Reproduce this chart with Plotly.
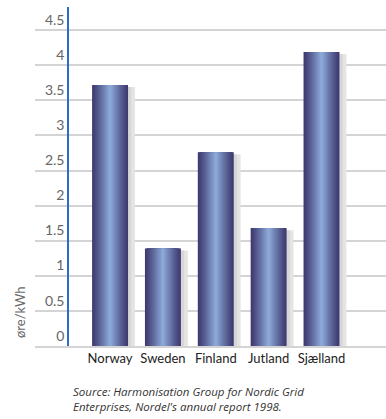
import plotly.graph_objects as go

countries = ["Norway", "Sweden", "Finland", "Jutland", "Sjælland"]
values = [3.72, 1.39, 2.76, 1.68, 4.19]
ytick_vals = [0, 0.5, 1, 1.5, 2, 2.5, 3, 3.5, 4, 4.5]
ytick_text = ["0", "0.5", "1", "1.5", "2", "2.5", "3", "3.5", "4", "4.5"]
y_title = "øre/kWh"
source_lines = ["Source: Harmonisation Group for Nordic Grid",
                "Enterprises, Nordel's annual report 1998."]

W = 0.68
dark = (62, 58, 112)
light = (140, 168, 216)


def mix(a, b, t):
    return "rgb(%d,%d,%d)" % tuple(round(a[k] + (b[k] - a[k]) * t) for k in range(3))


fig = go.Figure()

# shadow
shadow_shift = 0.13
fig.add_trace(go.Bar(x=countries, y=[v - 0.03 for v in values], width=W,
                     offset=-W / 2 + shadow_shift, marker=dict(color="#e4e4e4", line_width=0),
                     hoverinfo="skip", showlegend=False))
fig.add_trace(go.Bar(x=countries, y=[v - 0.03 for v in values], width=0.06,
                     offset=W / 2, marker=dict(color="#d6d6d6", line_width=0),
                     hoverinfo="skip", showlegend=False))

# gradient bar layers
N = 16
for i in range(N):
    wi = W * (1 - i / N)
    t = (i / (N - 1)) ** 1.1
    fig.add_trace(go.Bar(x=countries, y=values, width=wi, offset=-wi / 2,
                         marker=dict(color=mix(dark, light, t), line_width=0),
                         hoverinfo="skip", showlegend=False))

annotations = [
    dict(text=y_title, xref="paper", yref="paper", x=-0.043, y=0.1,
         textangle=-90, showarrow=False,
         font=dict(family="Lato", size=13, color="#666"),
         xanchor="center", yanchor="middle"),
]
for k, line in enumerate(source_lines):
    annotations.append(dict(text=line, xref="paper", yref="paper", x=0.105,
                            y=-0.108 - k * 0.0445,
                            showarrow=False, align="left", xanchor="left", yanchor="top",
                            borderpad=0,
                            font=dict(family="Open Sans", size=11.5, color="#333",
                                      style="italic")))

fig.update_layout(
    width=386, height=419,
    margin=dict(l=35, r=0, t=7, b=73),
    barmode="overlay",
    paper_bgcolor="white", plot_bgcolor="white",
    showlegend=False,
    xaxis=dict(type="category", range=[-1.42, 5.22], showgrid=False,
               showline=True, linecolor="#d4d4d4", linewidth=1.5,
               ticks="", tickfont=dict(family="Lato", size=13, color="#222"),
               fixedrange=True),
    yaxis=dict(range=[0, 4.83], anchor="free", position=0.094,
               tickvals=ytick_vals, ticktext=ytick_text,
               ticklabelposition="outside top",
               showgrid=True, gridcolor="#d4d4d4", gridwidth=1.5,
               zeroline=False, showline=True, linecolor="#2a6fc0", linewidth=1.5,
               ticks="outside", ticklen=8, tickcolor="rgba(0,0,0,0)",
               tickfont=dict(family="Lato", size=14, color="#666"),
               fixedrange=True),
    annotations=annotations,
)

fig.write_html("out.html")
